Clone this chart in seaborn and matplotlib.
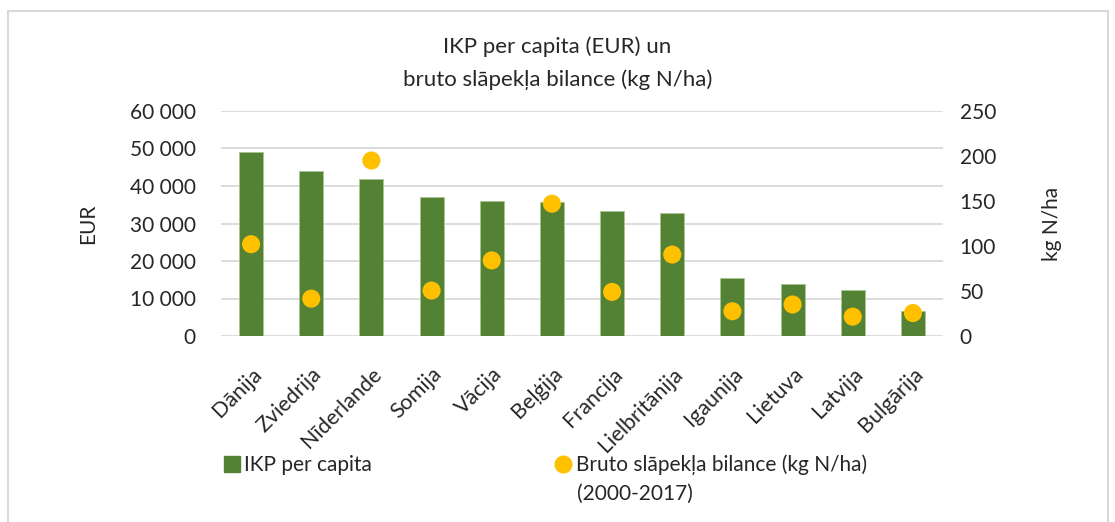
import matplotlib
matplotlib.use("Agg")
import matplotlib.pyplot as plt
import matplotlib.ticker as mticker
from matplotlib.lines import Line2D
from matplotlib.patches import Rectangle
import seaborn as sns
import pandas as pd

# data
countries = ["Dānija", "Zviedrija", "Nīderlande", "Somija", "Vācija", "Beļģija",
             "Francija", "Lielbritānija", "Igaunija", "Lietuva", "Latvija", "Bulgārija"]
gdp_per_capita = [49100, 43900, 42000, 37100, 35900, 35800,
                  33300, 32900, 15600, 13800, 12400, 6700]
nitrogen_balance = [102, 41.5, 195, 50.5, 84, 147,
                    49, 90.5, 27.5, 35, 21.5, 25.5]

GREEN = "#548235"
YELLOW = "#FFC000"
GRID = "#D9D9D9"
TEXT = "#262626"
W, H = 1115, 522

sns.set_theme(style="white")
plt.rcParams["font.family"] = ["Lato", "DejaVu Sans"]
plt.rcParams["text.color"] = TEXT
plt.rcParams["axes.labelcolor"] = TEXT
plt.rcParams["xtick.color"] = TEXT
plt.rcParams["ytick.color"] = TEXT

df = pd.DataFrame({"country": countries, "gdp": gdp_per_capita, "nbal": nitrogen_balance})

fig = plt.figure(figsize=(W / 100, H / 100), dpi=100)
ax = fig.add_axes([221 / W, 1 - 336 / H, (943 - 221) / W, 225 / H])

# bars on the left axis
sns.barplot(data=df, x="country", y="gdp", color=GREEN, width=0.4,
            saturation=1, ax=ax, edgecolor="#A9C58F", linewidth=0.6, zorder=2)
ax.set_ylim(0, 60000)
ax.set_xlim(-0.5, len(countries) - 0.5)
ax.yaxis.set_major_locator(mticker.MultipleLocator(10000))
ax.yaxis.set_major_formatter(mticker.FuncFormatter(lambda v, p: f"{int(v):,}".replace(",", " ")))
ax.grid(axis="y", color=GRID, linewidth=1.3, zorder=0)
ax.set_axisbelow(True)
for s in ax.spines.values():
    s.set_visible(False)
ax.tick_params(axis="both", length=0, labelsize=15)
ax.tick_params(axis="y", pad=18)
ax.tick_params(axis="x", pad=20, labelsize=15.5)
ax.set_xlabel("")
ax.set_ylabel("EUR", fontsize=15, labelpad=23)
plt.setp(ax.get_xticklabels(), rotation=45, ha="right", rotation_mode="anchor")

# dots on the right axis
ax2 = ax.twinx()
sns.scatterplot(data=df, x="country", y="nbal", color=YELLOW, s=170,
                edgecolor="none", ax=ax2, zorder=3)
ax2.set_ylim(0, 250)
ax2.yaxis.set_major_locator(mticker.MultipleLocator(50))
for s in ax2.spines.values():
    s.set_visible(False)
ax2.tick_params(axis="y", length=0, labelsize=15, pad=12)
ax2.set_ylabel("kg N/ha", fontsize=15, labelpad=33)
ax2.set_xlabel("")

fig.text(0.5, 1 - 47 / H, "IKP per capita (EUR) un", ha="center", va="center", fontsize=16)
fig.text(0.5, 1 - 80 / H, "bruto slāpekļa bilance (kg N/ha)", ha="center", va="center", fontsize=16)

# legend, one entry at a time so the dot lines up with the first text line
leg_kw = dict(loc="center left", frameon=False, fontsize=15, handletextpad=0.1,
              handlelength=1.0, borderaxespad=0, borderpad=0)
fig.legend([Line2D([], [], marker="s", linestyle="none", color=GREEN, markersize=12)],
           ["IKP per capita"], bbox_to_anchor=(221.5 / W, 1 - 465 / H), **leg_kw)
fig.legend([Line2D([], [], marker="o", linestyle="none", color=YELLOW, markersize=12)],
           ["Bruto slāpekļa bilance (kg N/ha)"], bbox_to_anchor=(553 / W, 1 - 465 / H), **leg_kw)
fig.text(577 / W, 1 - 494 / H, "(2000-2017)", ha="left", va="center", fontsize=15)

fig.patches.append(Rectangle((8 / W, -0.05), (1108 - 8) / W, 1.05 - 11 / H,
                             transform=fig.transFigure, fill=False,
                             edgecolor=GRID, linewidth=1.5))

fig.savefig("out.png", dpi=100)
